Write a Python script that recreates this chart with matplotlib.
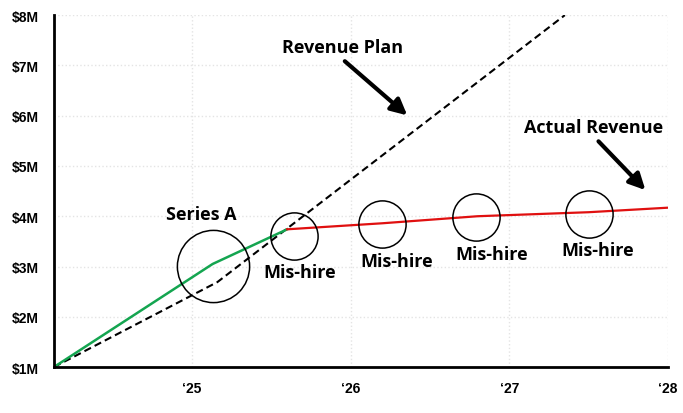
import matplotlib.pyplot as plt

# values (x in years, y in $M)
green_x = [2024.13, 2025.13, 2025.6]
green_y = [1.0, 3.05, 3.74]

plan_x = [2024.13, 2025.16, 2027.35]
plan_y = [1.0, 2.69, 8.0]

actual_x = [2025.6, 2026.2, 2026.8, 2027.5, 2028.0]
actual_y = [3.74, 3.86, 4.0, 4.08, 4.17]

series_a = (2025.13, 3.01)
mishire_x = [2025.64, 2026.20, 2026.79, 2027.50]
mishire_y = [3.60, 3.84, 3.98, 4.04]

year_ticks = [2025, 2026, 2027, 2028]
year_labels = ['\u201825', '\u201826', '\u201827', '\u201828']
money_ticks = [1, 2, 3, 4, 5, 6, 7, 8]
money_labels = ['$%dM' % v for v in money_ticks]

plt.rcParams['font.family'] = ['Open Sans', 'DejaVu Sans']

fig = plt.figure(figsize=(6.83, 4.14), dpi=100)
ax = fig.add_axes([0.079, 0.111, 0.899, 0.850])

ax.plot(plan_x, plan_y, color='black', lw=1.5, ls=(0, (3.5, 2)))
ax.plot(green_x, green_y, color='#14a550', lw=1.8)
ax.plot(actual_x, actual_y, color='#e01010', lw=1.6)

# circles
ax.plot([series_a[0]], [series_a[1]], 'o', ms=52, mfc='none', mec='black', mew=1.1)
ax.plot(mishire_x, mishire_y, 'o', ms=34, mfc='none', mec='black', mew=1.1, ls='none')

# labels
fs = 13
ax.text(2025.06, 4.04, 'Series A', ha='center', va='center', fontsize=fs, fontweight='bold')
label_pos = [(2025.68, 2.89), (2026.29, 3.11), (2026.89, 3.25), (2027.56, 3.33)]
for lx, ly in label_pos:
    ax.text(lx, ly, 'Mis-hire', ha='center', va='center', fontsize=fs, fontweight='bold')

ax.text(2025.95, 7.36, 'Revenue Plan', ha='center', va='center', fontsize=fs, fontweight='bold')
ax.annotate('', xy=(2026.37, 5.97), xytext=(2025.95, 7.12),
            arrowprops=dict(arrowstyle='-|>', color='black', lw=3, mutation_scale=24))
ax.text(2027.53, 5.77, 'Actual Revenue', ha='center', va='center', fontsize=fs, fontweight='bold')
ax.annotate('', xy=(2027.87, 4.48), xytext=(2027.55, 5.53),
            arrowprops=dict(arrowstyle='-|>', color='black', lw=3, mutation_scale=24))

ax.set_xlim(2024.13, 2028.0)
ax.set_ylim(1, 8)
ax.set_xticks(year_ticks)
ax.set_xticklabels(year_labels)
ax.set_yticks(money_ticks)
ax.set_yticklabels(money_labels)
for lab in ax.get_xticklabels() + ax.get_yticklabels():
    lab.set_fontfamily(['Liberation Sans', 'DejaVu Sans'])
    lab.set_fontweight('bold')
    lab.set_fontsize(10)
ax.tick_params(axis='x', length=0, pad=10)
ax.tick_params(axis='y', length=0, pad=11)

ax.grid(True, color='#e4e4e4', ls=':', lw=1)
ax.set_axisbelow(True)
for s in ['top', 'right']:
    ax.spines[s].set_visible(False)
for s in ['left', 'bottom']:
    ax.spines[s].set_linewidth(2)

fig.savefig('out.png', dpi=100)
